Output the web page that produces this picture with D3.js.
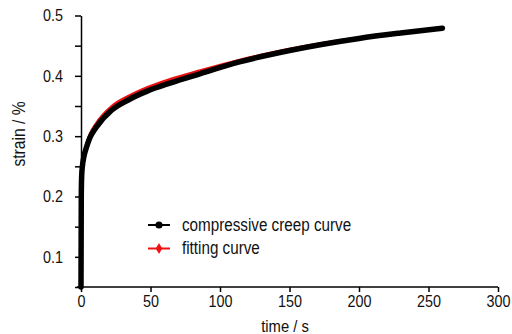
<!DOCTYPE html>
<html>
<head>
<meta charset="utf-8">
<script src="https://cdn.jsdelivr.net/npm/d3@7"></script>
<style>
  body { margin: 0; background: #fff; }
  text { font-family: "Liberation Sans", Arial, sans-serif; fill: #111; }
</style>
</head>
<body>
<div id="chart"></div>
<script>
var width = 512,
    height = 334

// values
var timeS = [0, 0.2, 0.5, 1, 2, 4, 6.5, 11, 22, 34, 48, 64, 85, 114, 150, 200, 230, 260]
var creepStrain = [0.05, 0.2, 0.235, 0.25, 0.265, 0.282, 0.298, 0.315, 0.343, 0.36, 0.375, 0.388, 0.403, 0.423, 0.442, 0.462, 0.471, 0.479]
var fitStrain = [0.05, 0.2, 0.228, 0.246, 0.266, 0.286, 0.303, 0.321, 0.349, 0.366, 0.381, 0.394, 0.408, 0.426, 0.444, 0.463, 0.472, 0.479]
var xTicks = [0, 50, 100, 150, 200, 250, 300]
var yTicks = [0.1, 0.2, 0.3, 0.4, 0.5]
var yMinor = [0.05, 0.1, 0.15, 0.2, 0.25, 0.3, 0.35, 0.4, 0.45, 0.5]
var seriesNames = ["compressive creep curve", "fitting curve"]
var seriesColors = ["#000000", "#ee1111"]

var sx = 0.87  // the lettering in the picture is narrow

var x = d3.scaleLinear().domain([0, 300]).range([81, 498])
var y = d3.scaleLinear().domain([0.05, 0.5]).range([287, 15.5])

var svg = d3.select("#chart")
  .append("svg")
    .attr("width", width)
    .attr("height", height)

// curves
var line = d3.line()
  .x(function(d) { return x(d[0]) })
  .y(function(d) { return y(d[1]) })
  .curve(d3.curveMonotoneX)

var fitData = timeS.map(function(t, i) { return [t, fitStrain[i]] })
var creepData = timeS.map(function(t, i) { return [t, creepStrain[i]] })

svg.append("path")
  .datum(fitData)
  .attr("d", line)
  .attr("fill", "none")
  .attr("stroke", seriesColors[1])
  .attr("stroke-width", 3)
  .attr("stroke-linecap", "round")

svg.append("path")
  .datum(creepData)
  .attr("d", line)
  .attr("fill", "none")
  .attr("stroke", seriesColors[0])
  .attr("stroke-width", 5.5)
  .attr("stroke-linecap", "round")
  .attr("stroke-linejoin", "round")

// axes
var xAxis = svg.append("g")
  .attr("transform", "translate(0,287)")
  .call(d3.axisBottom(x).tickValues(xTicks).tickSize(5).tickSizeOuter(0))
xAxis.select(".domain").attr("d", "M77,0H498").attr("stroke-width", 1.5)
xAxis.selectAll(".tick line").attr("stroke-width", 1.5)
xAxis.selectAll(".tick text")
  .attr("font-size", 16.5)
  .attr("y", 8)
  .attr("transform", "scale(" + sx + ",1)")

var yAxis = svg.append("g")
  .attr("transform", "translate(81,0)")
  .call(d3.axisLeft(y).tickValues(yMinor).tickSize(6).tickSizeOuter(0)
    .tickFormat(function(d) { return yTicks.some(function(v) { return Math.abs(v - d) < 1e-9 }) ? d3.format(".1f")(d) : "" }))
yAxis.select(".domain").attr("stroke-width", 1.5)
yAxis.selectAll(".tick line").attr("stroke-width", 1.5)
yAxis.selectAll(".tick text")
  .attr("font-size", 16.5)
  .attr("x", -18 / sx)
  .attr("transform", "scale(" + sx + ",1)")

svg.selectAll(".tick text").style("fill", "#111")

// axis titles
svg.append("text")
  .attr("transform", "translate(285,332) scale(" + sx + ",1)")
  .attr("text-anchor", "middle")
  .attr("font-size", 17)
  .text("time / s")

svg.append("text")
  .attr("transform", "translate(25,134) rotate(-90) scale(" + sx + ",1)")
  .attr("text-anchor", "middle")
  .attr("font-size", 18)
  .text("strain / %")

// legend
var legend = svg.selectAll(".legend")
  .data(seriesNames)
  .enter()
  .append("g")
    .attr("class", "legend")
    .attr("transform", function(d, i) { return "translate(148," + (225 + i * 23.5) + ")" })

legend.append("line")
  .attr("x1", 0).attr("x2", 22)
  .attr("stroke", function(d, i) { return seriesColors[i] })
  .attr("stroke-width", 2)

legend.append("path")
  .attr("transform", "translate(11,0)")
  .attr("d", function(d, i) { return d3.symbol().type(i == 0 ? d3.symbolCircle : d3.symbolDiamond).size(i == 0 ? 40 : 36)() })
  .attr("fill", function(d, i) { return seriesColors[i] })

legend.append("text")
  .attr("transform", "translate(34,5.5) scale(" + sx + ",1)")
  .attr("font-size", 17.5)
  .text(function(d) { return d })
</script>
</body>
</html>
